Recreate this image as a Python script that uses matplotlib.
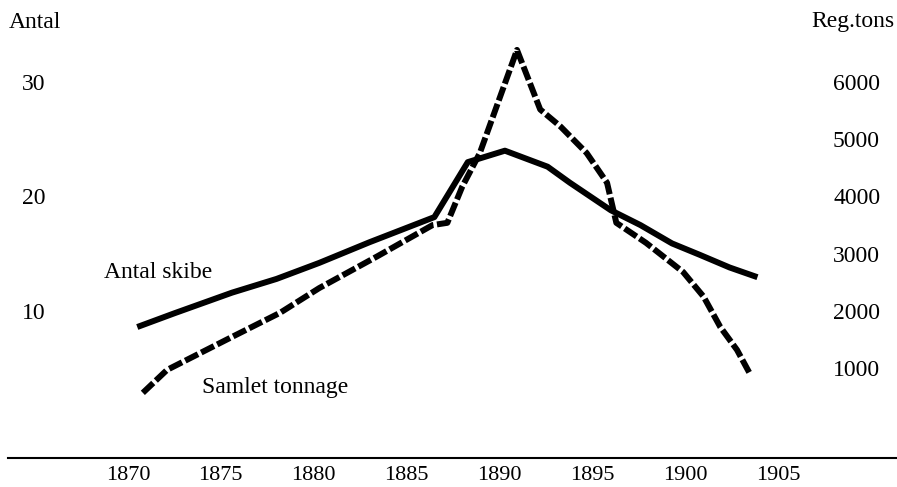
import matplotlib
matplotlib.use("Agg")
import matplotlib.pyplot as plt
from matplotlib.lines import Line2D

plt.rcParams['font.family'] = ['Liberation Serif', 'DejaVu Serif']

# Antal skibe (left axis)
years_antal = [1870.5, 1872.5, 1875.6, 1878.0, 1880.3, 1883.0, 1886.5, 1888.3,
               1890.3, 1892.6, 1893.8, 1896.0, 1897.6, 1899.3, 1900.8, 1902.4, 1903.9]
antal = [8.6, 9.8, 11.6, 12.8, 14.2, 16.0, 18.2, 23.0,
         24.0, 22.6, 21.2, 18.8, 17.5, 15.9, 14.9, 13.8, 12.95]

# Samlet tonnage (right axis, reg.tons)
years_tons = [1870.8, 1872.1, 1875.5, 1878.2, 1880.3, 1883.4, 1886.4, 1887.2,
              1888.0, 1888.95, 1890.95, 1892.2, 1893.3, 1894.7, 1895.8, 1896.3,
              1897.9, 1899.9, 1901.0, 1901.9, 1902.8, 1903.5]
tons = [570, 970, 1530, 1970, 2400, 2950, 3500, 3540,
        4170, 4760, 6560, 5520, 5220, 4760, 4240, 3540,
        3190, 2680, 2250, 1720, 1320, 900]

x_ticks = [1870, 1875, 1880, 1885, 1890, 1895, 1900, 1905]
left_ticks = [10, 20, 30]
right_ticks = [1000, 2000, 3000, 4000, 5000, 6000]

W, H = 897, 487
fig = plt.figure(figsize=(W / 100, H / 100), dpi=100)
ax = fig.add_axes([50 / W, (H - 458) / H, 778 / W, 458 / H])
ax2 = ax.twinx()

ax.plot(years_antal, antal, color='black', lw=4.3, solid_joinstyle='round',
        solid_capstyle='butt')
ax2.plot(years_tons, tons, color='black', lw=4.3, dashes=(2.4, 0.6),
         dash_capstyle='butt', dash_joinstyle='round')

ax.set_xlim(1865.8, 1907.7)
ax.set_ylim(-2.84, 37.16)
ax2.set_ylim(-568, 7432)

ax.set_xticks(x_ticks)
ax.set_xticklabels([str(t) for t in x_ticks], fontsize=16)
ax.set_yticks(left_ticks)
ax.set_yticklabels([str(t) for t in left_ticks], fontsize=17)
ax2.set_yticks(right_ticks)
ax2.set_yticklabels([str(t) for t in right_ticks], fontsize=17)

ax.tick_params(axis='x', length=0, pad=6)
ax.tick_params(axis='y', length=0, pad=3)
ax2.tick_params(axis='y', length=0, pad=3.6)

for a in (ax, ax2):
    for s in a.spines.values():
        s.set_visible(False)

# baseline under the plot
fig.add_artist(Line2D([8 / W, 1.0], [(H - 458) / H] * 2, color='black', lw=1.5))

fig.text(9 / W, 1 - 23 / H, 'Antal', fontsize=17, va='center', ha='left')
fig.text(894 / W, 1 - 22 / H, 'Reg.tons', fontsize=17, va='center', ha='right')

ax.text(1868.7, 13.4, 'Antal skibe', fontsize=17, va='center', ha='left')
ax.text(1874.0, 3.3, 'Samlet tonnage', fontsize=17, va='center', ha='left')

fig.savefig('out.png', dpi=100)
